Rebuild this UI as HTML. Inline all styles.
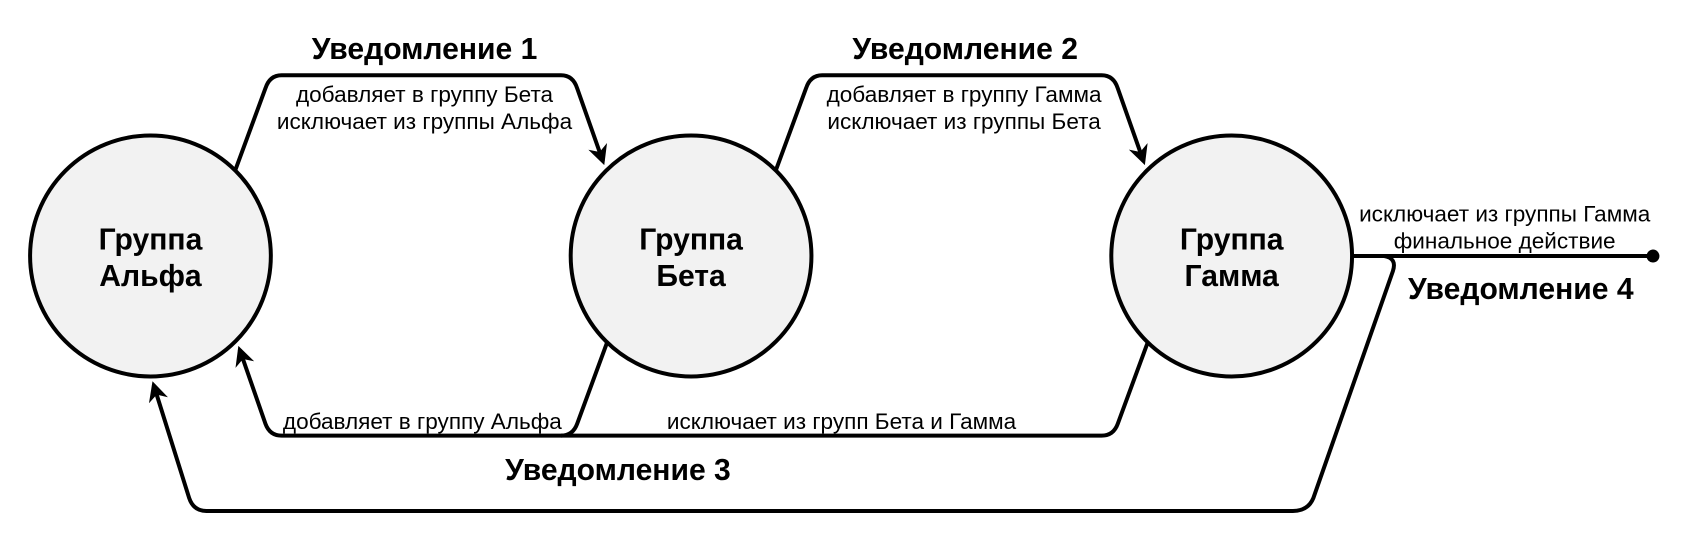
<!DOCTYPE html>
<html><head><meta charset="utf-8"><style>html,body{margin:0;padding:0;background:#fff}svg{display:block}</style></head>
<body>
<svg width="1682" height="540" viewBox="0 0 1565 502" preserveAspectRatio="none" xmlns="http://www.w3.org/2000/svg" font-family="Liberation Sans, DejaVu Sans, sans-serif">
<defs><marker id="a" viewBox="0 0 10 10" refX="8" refY="5" markerWidth="5" markerHeight="5" orient="auto-start-reverse" markerUnits="strokeWidth"><path d="M0,0 L10,5 L0,10 L3,5 z" fill="#000"/></marker></defs>
<g fill="none" stroke="#000" stroke-width="3.7" stroke-linejoin="round">
<path d="M219,158 L247,82 Q251,70 262,70 L522,70 Q533,70 537,82 L561,150" marker-end="url(#a)"/>
<path d="M722,158 L750,82 Q754,70 765,70 L1025,70 Q1036,70 1040,82 L1064,150" marker-end="url(#a)"/>
<path d="M565,318 L537,394 Q533,405 522,405 L262,405 Q251,405 247,394 L223,325" marker-end="url(#a)"/>
<path d="M1068,318 L1040,394 Q1036,405 1025,405 L522,405"/>
<path d="M1258,238 L1288,238 Q1300,240 1296,252 L1222,463 Q1217,475 1203,475 L192,475 Q180,475 176,463 L143,358" marker-end="url(#a)"/>
<path d="M1258,238 L1538,238"/>
</g>
<circle cx="1538" cy="238" r="6" fill="#000"/>
<g fill="#f2f2f2" stroke="#000" stroke-width="3.7">
<circle cx="140" cy="238" r="112"/><circle cx="643" cy="238" r="112"/><circle cx="1146" cy="238" r="112"/>
</g>
<g text-anchor="middle" font-weight="bold" font-size="28">
<text x="140" y="232">Группа</text><text x="140" y="266">Альфа</text>
<text x="643" y="232">Группа</text><text x="643" y="266">Бета</text>
<text x="1146" y="232">Группа</text><text x="1146" y="266">Гамма</text>
<text x="395" y="55">Уведомление 1</text>
<text x="898" y="55">Уведомление 2</text>
<text x="575" y="446">Уведомление 3</text>
<text x="1415" y="278">Уведомление 4</text>
</g>
<g text-anchor="middle" font-size="21">
<text x="395" y="95">добавляет в группу Бета</text>
<text x="395" y="120">исключает из группы Альфа</text>
<text x="897" y="95">добавляет в группу Гамма</text>
<text x="897" y="120">исключает из группы Бета</text>
<text x="393" y="399">добавляет в группу Альфа</text>
<text x="783" y="399">исключает из групп Бета и Гамма</text>
<text x="1400" y="206">исключает из группы Гамма</text>
<text x="1400" y="231">финальное действие</text>
</g>
</svg>
</body></html>
